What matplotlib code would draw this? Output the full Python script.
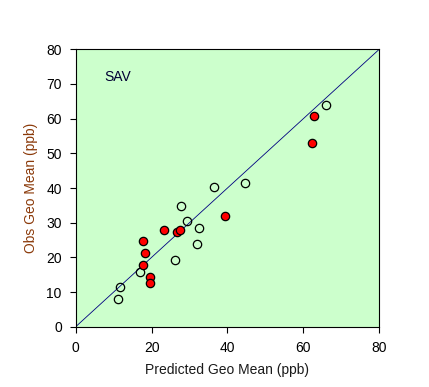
import matplotlib.pyplot as plt

plt.rcParams['font.family'] = ['Liberation Sans', 'DejaVu Sans']

# open circles
open_pred = [66.1, 36.4, 44.5, 27.7, 29.2, 32.4, 31.9, 26.3, 16.9, 11.7, 11.1]
open_obs = [64.0, 40.4, 41.5, 34.9, 30.5, 28.6, 23.9, 19.3, 15.8, 11.5, 8.1]

# filled red circles
red_pred = [62.7, 62.4, 39.4, 23.4, 26.6, 27.5, 17.7, 18.3, 17.7, 19.5, 19.5]
red_obs = [60.9, 53.1, 32.0, 28.0, 27.4, 27.8, 24.8, 21.3, 17.9, 14.4, 12.7]

x_ticks = [0, 20, 40, 60, 80]
y_ticks = [0, 10, 20, 30, 40, 50, 60, 70, 80]

fig = plt.figure(figsize=(4.29, 3.87), dpi=100)
ax = fig.add_axes([0.1765, 0.1558, 0.7075, 0.7168])
ax.set_facecolor('#CCFFCC')

ax.plot([0, 80], [0, 80], color='#000080', linewidth=0.6, zorder=2)
ax.plot(open_pred, open_obs, 'o', markersize=6, markerfacecolor='none',
        markeredgecolor='black', markeredgewidth=0.9, zorder=3)
ax.plot(red_pred, red_obs, 'o', markersize=6, markerfacecolor='#FF0000',
        markeredgecolor='black', markeredgewidth=0.9, zorder=3)

ax.text(7.6, 72, 'SAV', fontsize=10, color='#000033', ha='left', va='center')

ax.set_xlim(0, 80)
ax.set_ylim(0, 80)
ax.set_xticks(x_ticks)
ax.set_yticks(y_ticks)
ax.tick_params(direction='out', length=4, width=0.8, labelsize=10, pad=6)
for s in ax.spines.values():
    s.set_linewidth(0.8)

ax.set_xlabel('Predicted Geo Mean (ppb)', fontsize=10, color='#1a1a1a', labelpad=6)
ax.set_ylabel('Obs Geo Mean (ppb)', fontsize=10, color='#8B3A0A', labelpad=6)

fig.savefig('out.png', dpi=100)
